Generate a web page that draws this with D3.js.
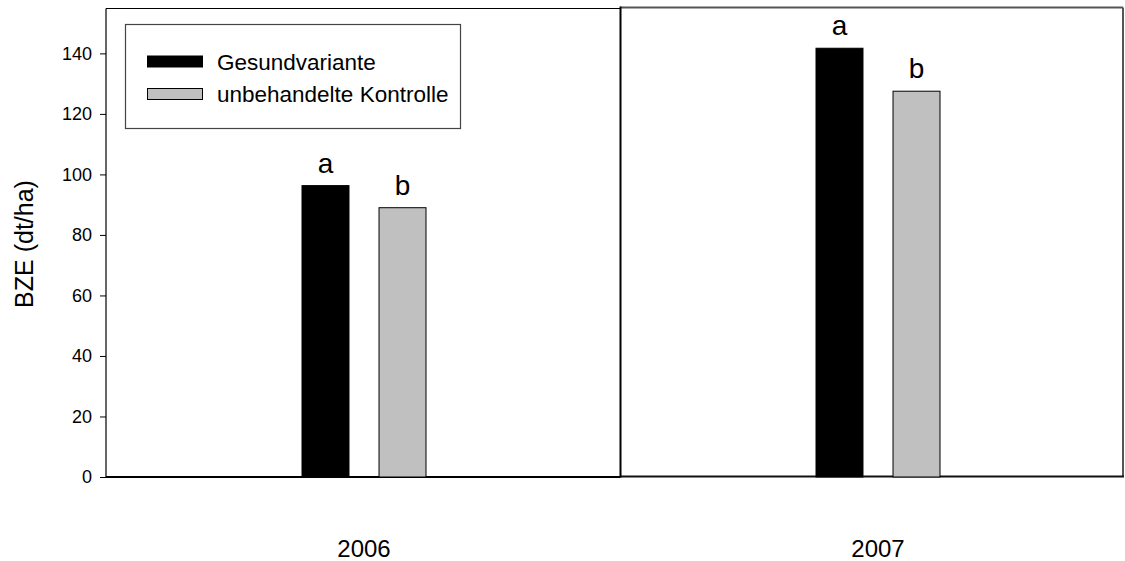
<!DOCTYPE html>
<html>
<head>
<meta charset="utf-8">
<script src="https://cdn.jsdelivr.net/npm/d3@7"></script>
<style>
  html, body { margin: 0; padding: 0; background: #fff; }
  svg { display: block; font-family: Arial, "Liberation Sans", sans-serif; }
</style>
</head>
<body>
<svg id="chart" width="1125" height="561"></svg>
<script>
// Kornertrag (BZE) je Jahr und Variante
const years = ["2006", "2007"];
const series = ["Gesundvariante", "unbehandelte Kontrolle"];
const gesundvariante = [96.3, 141.7];
const kontrolle = [89.0, 127.5];
const letters = [["a", "b"], ["a", "b"]];
const yTicks = [0, 20, 40, 60, 80, 100, 120, 140];
const yLabel = "BZE (dt/ha)";

const colors = { "Gesundvariante": "#000000", "unbehandelte Kontrolle": "#c0c0c0" };
const values = { "Gesundvariante": gesundvariante, "unbehandelte Kontrolle": kontrolle };

const svg = d3.select("#chart");

const y = d3.scaleLinear().domain([0, 155]).range([477, 8]);
const xGroup = d3.scalePoint().domain(years).range([364, 878]);
const xInner = d3.scaleBand().domain(series).range([-62, 62]).paddingInner(0.39);

const left = 106, split = 620.5, right = 1123;

// left panel frame
svg.append("line").attr("x1", left).attr("x2", split).attr("y1", 8.5).attr("y2", 8.5)
  .attr("stroke", "#000").attr("stroke-width", 1.2);
svg.append("line").attr("x1", left).attr("x2", split).attr("y1", y(0)).attr("y2", y(0))
  .attr("stroke", "#000").attr("stroke-width", 2);

// right panel frame
svg.append("line").attr("x1", split).attr("x2", right).attr("y1", 7.5).attr("y2", 7.5)
  .attr("stroke", "#555").attr("stroke-width", 2);
svg.append("line").attr("x1", right).attr("x2", right).attr("y1", 7.5).attr("y2", 476.5)
  .attr("stroke", "#555").attr("stroke-width", 2);
svg.append("line").attr("x1", split).attr("x2", right + 1).attr("y1", 476.5).attr("y2", 476.5)
  .attr("stroke", "#111").attr("stroke-width", 2);
svg.append("line").attr("x1", split).attr("x2", split).attr("y1", 6.5).attr("y2", 477.5)
  .attr("stroke", "#000").attr("stroke-width", 2);

// y axis
const yAxis = d3.axisLeft(y).tickValues(yTicks).tickSize(6).tickPadding(8).tickSizeOuter(0);
const gy = svg.append("g").attr("transform", `translate(${left},0)`).call(yAxis);
gy.select(".domain").attr("stroke", "#000").attr("stroke-width", 1.2)
  .attr("d", `M0,${y(0)}V8.5`);
gy.selectAll(".tick line").attr("stroke", "#000").attr("stroke-width", 1);
gy.selectAll(".tick text").attr("font-size", 18).attr("fill", "#000")
  .attr("font-family", "Arial, 'Liberation Sans', sans-serif");

svg.append("text")
  .attr("transform", `translate(33,244) rotate(-90)`)
  .attr("text-anchor", "middle")
  .attr("font-size", 25)
  .attr("fill", "#000")
  .text(yLabel);

// bars with significance letters
years.forEach((yr, i) => {
  const g = svg.append("g").attr("transform", `translate(${xGroup(yr)},0)`);
  series.forEach((s, j) => {
    const v = values[s][i];
    g.append("rect")
      .attr("x", xInner(s))
      .attr("y", y(v))
      .attr("width", xInner.bandwidth())
      .attr("height", y(0) - y(v))
      .attr("fill", colors[s])
      .attr("stroke", "#000")
      .attr("stroke-width", 1);
    g.append("text")
      .attr("x", xInner(s) + xInner.bandwidth() / 2)
      .attr("y", y(v) - 13)
      .attr("text-anchor", "middle")
      .attr("font-size", 28)
      .attr("fill", "#000")
      .text(letters[i][j]);
  });
  svg.append("text")
    .attr("x", xGroup(yr))
    .attr("y", 557)
    .attr("text-anchor", "middle")
    .attr("font-size", 24)
    .attr("fill", "#000")
    .text(yr);
});

// legend
const lg = svg.append("g");
lg.append("rect").attr("x", 125.5).attr("y", 24.5).attr("width", 335).attr("height", 104)
  .attr("fill", "#fff").attr("stroke", "#444").attr("stroke-width", 1.2);
series.forEach((s, j) => {
  const cy = 61.5 + j * 32.5;
  lg.append("rect").attr("x", 147.5).attr("y", cy - 5.5).attr("width", 55).attr("height", 11)
    .attr("fill", colors[s]).attr("stroke", "#000").attr("stroke-width", 1);
  lg.append("text").attr("x", 217).attr("y", cy).attr("dy", "0.36em")
    .attr("font-size", 22.5).attr("fill", "#000").text(s);
});
</script>
</body>
</html>
